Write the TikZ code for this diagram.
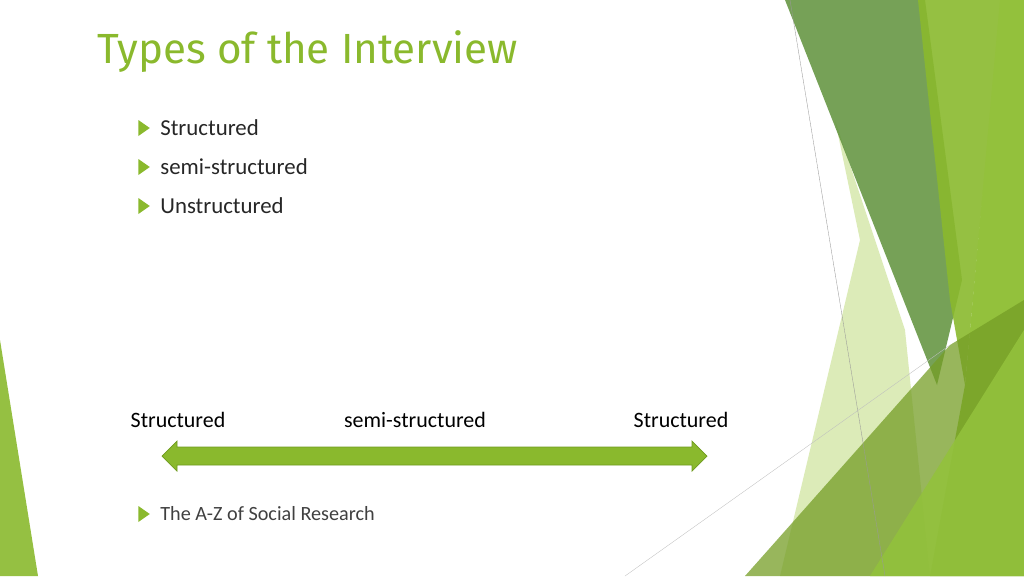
\documentclass[tikz,border=0pt]{standalone}
\usepackage{fontspec}
\setmainfont{Carlito}
\newfontfamily\titlefont{Fira Sans}
\usetikzlibrary{shapes.geometric, positioning}
\definecolor{leaf}{HTML}{8AB92D}
\definecolor{leafdark}{HTML}{6E9A1E}
\definecolor{moss}{HTML}{5E913A}
\definecolor{lime}{HTML}{93C13C}
\definecolor{pale}{HTML}{D3E6A6}
\tikzstyle{bullet} = [
    isosceles triangle,
    isosceles triangle apex angle=70,
    fill=leaf,
    inner sep=0pt,
    minimum height=6.5pt,
    anchor=west
]
\tikzstyle{item} = [
    anchor=west,
    inner sep=0pt,
    font=\fontsize{13}{15}\selectfont,
    text=black!85
]
\tikzstyle{endlabel} = [
    font=\fontsize{12.5}{15}\selectfont
]
\begin{document}
\begin{tikzpicture}[x=0.02cm, y=-0.02cm]
        \useasboundingbox (0,0) rectangle (1024,576);
        % backdrop shapes
        \fill[leaf, opacity=0.9] (0,340) -- (38,576) -- (0,576) -- cycle;
        \fill[pale, opacity=0.8] (835,120) -- (905,330) -- (930,576) -- (780,576) -- (860,240) -- cycle;
        \fill[moss, opacity=0.85] (785,0) -- (925,0) -- (962,280) -- (937,385) -- cycle;
        \fill[leaf, opacity=0.9] (918,0) -- (1001,0) -- (965,385) -- (950,300) -- cycle;
        \fill[lime] (1000,0) -- (1024,0) -- (1024,576) -- (930,576) -- (965,385) -- cycle;
        \fill[leaf!85!black, opacity=0.75] (745,576) -- (950,345) -- (1024,300) -- (1024,576) -- cycle;
        \fill[lime, opacity=0.9] (870,576) -- (1024,330) -- (1024,576) -- cycle;
        \draw[black!40, very thin] (790,0) -- (885,576);
        \draw[black!25, very thin] (625,576) -- (950,345);

        \node (title) [anchor=west, inner sep=0pt, text=leaf, font=\titlefont\fontsize{24}{28}\selectfont] at (97,52) {Types of the Interview};

        \foreach \name/\txt [count=\i] in {s/Structured, m/semi-structured, u/Unstructured} {
            \node (b\name) [bullet] at (138,128+39*\i-39) {};
            \node (t\name) [item] at (160,128+39*\i-39) {\txt};
        }

        % double arrow of the scale
        \coordinate (tipl) at (162,456);
        \coordinate (tipr) at (707,456);
        \fill[leaf, draw=leafdark] (tipl) -- (177,441) -- (177,447) -- (692,447) -- (692,441)
            -- (tipr) -- (692,471) -- (692,465) -- (177,465) -- (177,471) -- cycle;
        \node (left) [endlabel] at (178,420) {Structured};
        \node (mid) [endlabel] at (415,420) {semi-structured};
        \node (right) [endlabel] at (681,420) {Structured};

        \node (bref) [bullet] at (138,514) {};
        \node (tref) [item, font=\fontsize{11.5}{14}\selectfont, text=black!75] at (160,514) {The A-Z of Social Research};
    \end{tikzpicture}
\end{document}
